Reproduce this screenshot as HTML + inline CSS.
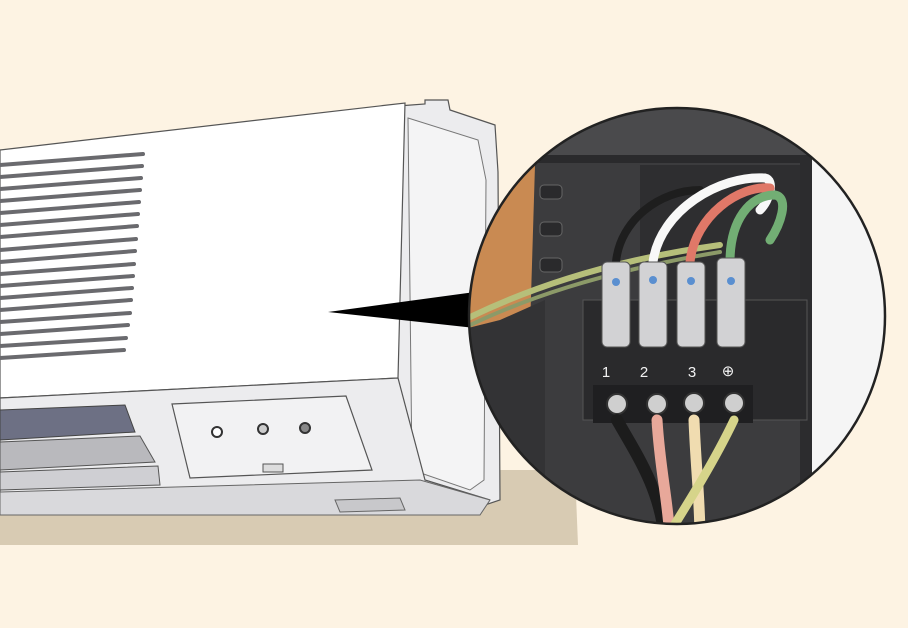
<!DOCTYPE html>
<html><head><style>html,body{margin:0;padding:0;background:#fdf3e3;}svg{display:block}</style></head>
<body>
<svg width="908" height="628" viewBox="0 0 908 628" xmlns="http://www.w3.org/2000/svg">
<rect width="908" height="628" fill="#fdf3e3"/>
<polygon points="0,470 575,470 578,545 0,545" fill="#d8cbb3"/>
<polygon points="398,106 425,104 425,100 448,100 450,110 495,125 498,172 500,500 470,510 420,485 395,378" fill="#ececee" stroke="#555" stroke-width="1.2"/>
<polygon points="408,118 478,140 486,180 484,480 470,490 412,470" fill="#f4f4f5" stroke="#777" stroke-width="1"/>
<polygon points="0,150 405,103 398,378 0,398" fill="#ffffff" stroke="#555" stroke-width="1.2"/>
<g stroke="#6a6a6e" stroke-width="4" stroke-linecap="round">
<line x1="0" y1="165" x2="143" y2="154"/>
<line x1="0" y1="177" x2="142" y2="166"/>
<line x1="0" y1="189" x2="141" y2="178"/>
<line x1="0" y1="201" x2="140" y2="190"/>
<line x1="0" y1="213" x2="139" y2="202"/>
<line x1="0" y1="225" x2="138" y2="214"/>
<line x1="0" y1="237" x2="137" y2="226"/>
<line x1="0" y1="250" x2="136" y2="239"/>
<line x1="0" y1="262" x2="135" y2="251"/>
<line x1="0" y1="274" x2="134" y2="264"/>
<line x1="0" y1="286" x2="133" y2="276"/>
<line x1="0" y1="298" x2="132" y2="288"/>
<line x1="0" y1="310" x2="131" y2="300"/>
<line x1="0" y1="322" x2="130" y2="313"/>
<line x1="0" y1="334" x2="128" y2="325"/>
<line x1="0" y1="346" x2="126" y2="338"/>
<line x1="0" y1="358" x2="124" y2="350"/>
</g>
<polygon points="0,398 398,378 425,480 490,500 0,510" fill="#ececee" stroke="#555" stroke-width="1.2"/>
<polygon points="0,410 125,405 135,432 0,440" fill="#6d7084" stroke="#444"/>
<polygon points="0,442 140,436 155,462 0,470" fill="#b9b9bd" stroke="#555"/>
<polygon points="0,472 158,466 160,485 0,490" fill="#cfcfd3" stroke="#555"/>
<polygon points="0,492 420,480 490,500 480,515 0,515" fill="#d9d9dc" stroke="#666"/>
<polygon points="335,500 400,498 405,510 340,512" fill="#c8c8cb" stroke="#666"/>
<polygon points="172,404 346,396 372,470 190,478" fill="#f2f2f3" stroke="#555" stroke-width="1.2"/>
<circle cx="217" cy="432" r="5" fill="#fff" stroke="#333" stroke-width="2"/>
<circle cx="263" cy="429" r="5" fill="#ccc" stroke="#333" stroke-width="2"/>
<circle cx="305" cy="428" r="5" fill="#888" stroke="#333" stroke-width="2"/>
<rect x="263" y="464" width="20" height="8" fill="#ddd" stroke="#555"/>
<polygon points="328,312 475,292 475,328" fill="#000"/>
<defs><clipPath id="c"><circle cx="677" cy="316" r="208"/></clipPath></defs>
<g clip-path="url(#c)">
<rect x="460" y="100" width="440" height="440" fill="#3c3c3e"/>
<rect x="530" y="100" width="300" height="60" fill="#4a4a4c"/>
<rect x="530" y="155" width="280" height="8" fill="#2a2a2c"/>
<rect x="805" y="155" width="100" height="380" fill="#f5f5f5"/>
<rect x="800" y="155" width="12" height="380" fill="#2c2c2e"/>
<polygon points="460,160 535,165 530,330 460,340" fill="#c98a52"/>
<polygon points="460,330 500,320 545,300 545,540 460,540" fill="#333335"/>
<rect x="540" y="185" width="22" height="14" rx="4" fill="#2a2a2c" stroke="#666"/>
<rect x="540" y="222" width="22" height="14" rx="4" fill="#2a2a2c" stroke="#666"/>
<rect x="540" y="258" width="22" height="14" rx="4" fill="#2a2a2c" stroke="#666"/>
<rect x="640" y="165" width="160" height="140" fill="#2e2e30"/>
<g fill="none" stroke-linecap="round">
<path d="M460,322 C520,292 600,262 720,245" stroke="#b6bf7a" stroke-width="6"/>
<path d="M460,330 C520,300 600,272 720,252" stroke="#8c9a68" stroke-width="4"/>
<path d="M616,262 C620,220 660,190 700,190" stroke="#1e1e1e" stroke-width="8"/>
<path d="M653,262 C660,210 720,175 765,178 C775,180 770,200 760,210" stroke="#f8f8f8" stroke-width="9"/>
<path d="M690,262 C695,215 740,185 770,188" stroke="#e07868" stroke-width="9"/>
<path d="M730,262 C730,220 750,195 775,195 C790,198 780,225 770,240" stroke="#72ae74" stroke-width="9"/>
</g>
<rect x="583" y="300" width="224" height="120" fill="#2a2a2c" stroke="#555"/>
<rect x="593" y="385" width="160" height="38" fill="#1f1f21"/>
<g fill="#d2d2d4" stroke="#555">
<rect x="602" y="262" width="28" height="85" rx="5"/>
<rect x="639" y="262" width="28" height="85" rx="5"/>
<rect x="677" y="262" width="28" height="85" rx="5"/>
<rect x="717" y="258" width="28" height="89" rx="5"/>
</g>
<g fill="#5a8fd0"><circle cx="616" cy="282" r="4"/><circle cx="653" cy="280" r="4"/><circle cx="691" cy="281" r="4"/><circle cx="731" cy="281" r="4"/></g>
<g font-family="Liberation Sans, sans-serif" font-size="15" fill="#f2f2f2" text-anchor="middle">
<text x="606" y="377">1</text><text x="644" y="377">2</text><text x="692" y="377">3</text><text x="728" y="376">⊕</text>
</g>
<g fill="#cfcfcf" stroke="#333" stroke-width="2">
<circle cx="617" cy="404" r="10"/><circle cx="657" cy="404" r="10"/><circle cx="694" cy="403" r="10"/><circle cx="734" cy="403" r="10"/>
</g>
<g fill="none" stroke-linecap="round">
<path d="M617,420 C640,460 660,490 665,540" stroke="#1c1c1c" stroke-width="12"/>
<path d="M657,420 C660,470 668,500 670,540" stroke="#e8a89a" stroke-width="11"/>
<path d="M694,420 C696,470 700,500 700,540" stroke="#f0dcb0" stroke-width="11"/>
<path d="M734,420 C715,460 690,500 665,540" stroke="#d6d48a" stroke-width="9"/>
</g>
</g>
<circle cx="677" cy="316" r="208" fill="none" stroke="#222" stroke-width="2.5"/>
</svg>
</body></html>
